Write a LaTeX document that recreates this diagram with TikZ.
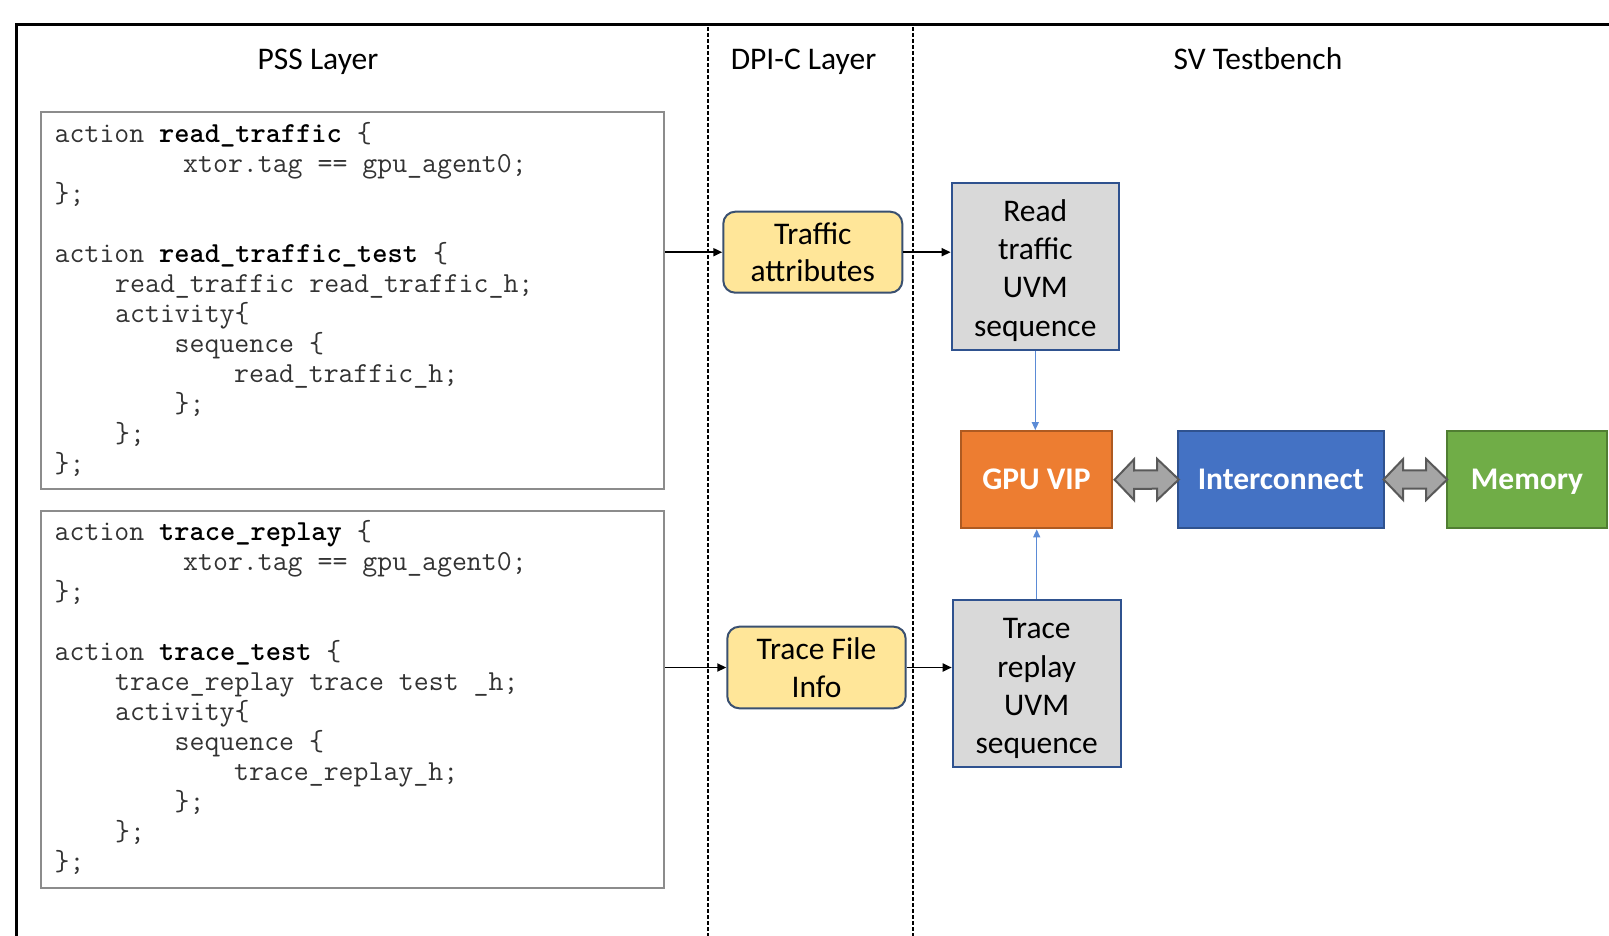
\documentclass[tikz,border=0pt]{standalone}
\usepackage{fontspec}
\usetikzlibrary{arrows.meta,calc}
\newfontfamily\calib{Carlito}
\definecolor{yelfill}{HTML}{FFE699}
\definecolor{yeldraw}{HTML}{3A5070}
\definecolor{gryfill}{HTML}{D9D9D9}
\definecolor{grydraw}{HTML}{2F528F}
\definecolor{orfill}{HTML}{ED7D31}
\definecolor{ordraw}{HTML}{AE5A21}
\definecolor{blfill}{HTML}{4472C4}
\definecolor{bldraw}{HTML}{2F528F}
\definecolor{grfill}{HTML}{70AD47}
\definecolor{grdraw}{HTML}{507E32}
\definecolor{arrfill}{HTML}{A5A5A5}
\definecolor{arrdraw}{HTML}{595959}
\definecolor{bluearrow}{HTML}{5B8BD6}
\definecolor{codegray}{HTML}{8C8C8C}
\definecolor{codetext}{HTML}{333333}
\begin{document}
\begin{tikzpicture}[x=1pt,y=-1pt,
  title/.style={font=\fontsize{31.5}{38.5}\selectfont\calib, inner sep=0pt, anchor=base},
  codebox/.style={draw=codegray, line width=2pt, inner sep=0pt},
  code/.style={font=\fontsize{29}{30}\selectfont\ttfamily, text=codetext, inner sep=0pt},
  yelbox/.style={draw=yeldraw, fill=yelfill, line width=2pt, rounded corners=12pt, inner sep=0pt,
    align=center, font=\fontsize{31.5}{37.8}\selectfont\calib},
  grybox/.style={draw=grydraw, fill=gryfill, line width=2pt, inner sep=0pt},
  grytext/.style={inner sep=0pt, align=center, font=\fontsize{31.5}{38.3}\selectfont\calib},
  solid box/.style={line width=2pt, inner sep=0pt, text=white, text height=20.3pt, text depth=0pt,
    font=\fontsize{31.5}{38.5}\selectfont\calib\bfseries},
  blackarrow/.style={line width=1.8pt, -{Triangle[length=9pt,width=8pt]}},
  bluearr/.style={draw=bluearrow, line width=1.3pt, -{Triangle[length=8pt,width=7pt]}},
  barrow/.style={draw=arrdraw, fill=arrfill, line width=2pt, line join=miter},
  divider/.style={line width=2pt, dash pattern=on 4pt off 2pt}
]
\useasboundingbox (0,0) rectangle (1609,936);
\clip (0,0) rectangle (1609,936);

% outer frame (cut at right and bottom)
\draw[line width=3pt] (16.5,945) -- (16.5,24.5) -- (1620,24.5);

% dividers
\draw[divider] (708,27) -- (708,936);
\draw[divider] (912.5,27) -- (912.5,936);

% titles
\node[title] (pss) at (318,69.5) {PSS Layer};
\node[title] (dpi) at (803.5,69.5) {DPI-C Layer};
\node[title] (sv) at (1258,69.5) {SV Testbench};

% code boxes
\node[codebox, minimum width=623pt, minimum height=376.5pt] (code1box) at (352.5,300.25) {};
\node[codebox, minimum width=623pt, minimum height=377pt] (code2box) at (352.5,699.5) {};

\foreach \n/\x/\y/\txt in {
  a1/54.5/142.5/{action \textcolor{black}{\bfseries read\_traffic} \{},
  a2/183/172.5/{xtor.tag == gpu\_agent0;},
  a3/54.5/202.5/{\};},
  a4/54.5/262.5/{action \textcolor{black}{\bfseries read\_traffic\_test} \{},
  a5/115/292.5/{read\_traffic read\_traffic\_h;},
  a6/115/322.5/{activity\{},
  a7/174.5/352.5/{sequence \{},
  a8/234/382.5/{read\_traffic\_h;},
  a9/174.5/412.5/{\};},
  a10/115/442.5/{\};},
  a11/54.5/472.5/{\};},
  b1/54.5/540/{action \textcolor{black}{\bfseries trace\_replay} \{},
  b2/183/570/{xtor.tag == gpu\_agent0;},
  b3/54.5/600/{\};},
  b4/54.5/660/{action \textcolor{black}{\bfseries trace\_test} \{},
  b5/115/690/{trace\_replay trace test \_h;},
  b6/115/720/{activity\{},
  b7/174.5/750/{sequence \{},
  b8/234/780/{trace\_replay\_h;},
  b9/174.5/810/{\};},
  b10/115/840/{\};},
  b11/54.5/870/{\};}%
} \node[code, anchor=base west] (\n) at (\x,\y) {\txt};

% DPI-C boxes
\node[yelbox, minimum width=179pt, minimum height=81pt] (ta) at (812.8,252.2) {Traffic\\attributes};
\node[yelbox, minimum width=178.4pt, minimum height=81.6pt] (tfi) at (816.5,667.5) {Trace File\\Info};

% SV testbench boxes
\node[grybox, minimum width=167.3pt, minimum height=166.7pt] (rt) at (1035.3,266.7) {};
\node[grytext] (rtl) at ($(rt.center)+(0,3.5)$) {Read\\traffic\\UVM\\sequence};
\node[grybox, minimum width=168pt, minimum height=167.3pt] (tr) at (1036.7,683.7) {};
\node[grytext] (trl) at ($(tr.center)+(0,5)$) {Trace\\replay\\UVM\\sequence};

\node[solid box, draw=ordraw, fill=orfill, minimum width=151.3pt, minimum height=97.3pt] (gpu) at (1036.4,479.7) {GPU VIP};
\node[solid box, draw=bldraw, fill=blfill, minimum width=205.8pt, minimum height=97.6pt] (ic) at (1280.7,479.5) {Interconnect};
\node[solid box, draw=grdraw, fill=grfill, minimum width=160.6pt, minimum height=97.6pt] (mem) at (1527,479.5) {Memory};

% black arrows
\draw[blackarrow] (ta.west -| code1box.east) -- (ta.west);
\draw[blackarrow] (ta.east) -- (ta.east -| rt.west);
\draw[blackarrow] (tfi.west -| code2box.east) -- (tfi.west);
\draw[blackarrow] (tfi.east) -- (tfi.east -| tr.west);

% blue arrows
\draw[bluearr] (rt.south) -- (rt.south |- gpu.north);
\draw[bluearr] (tr.north) -- (tr.north |- gpu.south);

% block double arrows
\draw[barrow] ($(gpu.east)+(1.5,0)$) -- ++(19.6,20.5) -- ++(0,-11.3) -- ($(ic.west)+(-19.6,9.2)$) -- ++(0,11.3)
  -- ($(ic.west)+(2,0)$) -- ($(ic.west)+(-19.6,-20.5)$) -- ++(0,11.3) -- ($(gpu.east)+(21.1,-9.2)$) -- ++(0,-11.3) -- cycle;
\draw[barrow] ($(ic.east)+(-1,0)$) -- ++(19.6,20.5) -- ++(0,-11.3) -- ($(mem.west)+(-19.6,9.2)$) -- ++(0,11.3)
  -- ($(mem.west)+(1.5,0)$) -- ($(mem.west)+(-19.6,-20.5)$) -- ++(0,11.3) -- ($(ic.east)+(18.6,-9.2)$) -- ++(0,-11.3) -- cycle;
\end{tikzpicture}
\end{document}
